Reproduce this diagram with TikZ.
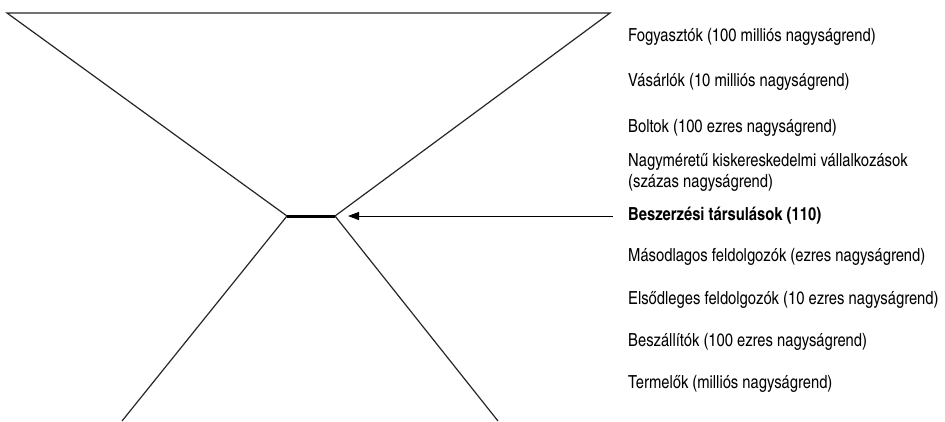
\documentclass[tikz,border=0pt]{standalone}
\usepackage{fontspec}
\setmainfont{texgyreheroscn}[Extension=.otf, UprightFont=*-regular, BoldFont=*-bold]
\usetikzlibrary{arrows.meta}
\begin{document}
\begin{tikzpicture}[x=1pt,y=-1pt,
  lbl/.style={anchor=west, inner sep=0pt, align=left, font=\fontsize{18}{21}\selectfont},
  funnel/.style={line width=1.2pt, color=black!85},
  neck/.style={line width=3pt},
  pointer/.style={line width=0.9pt, -{Triangle[length=11pt,width=8pt]}}]
\useasboundingbox (0,0) rectangle (945,421);
\coordinate (tl) at (7,13);
\coordinate (tr) at (610,13);
\coordinate (ml) at (287,216);
\coordinate (mr) at (335,216);
\coordinate (bl) at (122,421);
\coordinate (br) at (498,421);
\coordinate (tip) at (348,216);
\draw[funnel] (bl) -- (ml) -- (tl) -- (tr) -- (mr) -- (br);
\draw[neck] (ml) -- (mr);
\node[lbl] (l1) at (628,37) {Fogyasztók (100 milliós nagyságrend)};
\node[lbl] (l2) at (628,82) {Vásárlók (10 milliós nagyságrend)};
\node[lbl] (l3) at (628,128) {Boltok (100 ezres nagyságrend)};
\node[lbl] (l4) at (628,172) {Nagyméretű kiskereskedelmi vállalkozások\\(százas nagyságrend)};
\node[lbl, font=\fontsize{18}{21}\selectfont\bfseries] (l5) at (628,216) {Beszerzési társulások (110)};
\node[lbl] (l6) at (628,257) {Másodlagos feldolgozók (ezres nagyságrend)};
\node[lbl] (l7) at (628,300) {Elsődleges feldolgozók (10 ezres nagyságrend)};
\node[lbl] (l8) at (628,342) {Beszállítók (100 ezres nagyságrend)};
\node[lbl] (l9) at (628,384) {Termelők (milliós nagyságrend)};
\coordinate (tail) at ([xshift=-15pt]l5.west);
\draw[pointer] (tail) -- (tip);
\end{tikzpicture}
\end{document}
